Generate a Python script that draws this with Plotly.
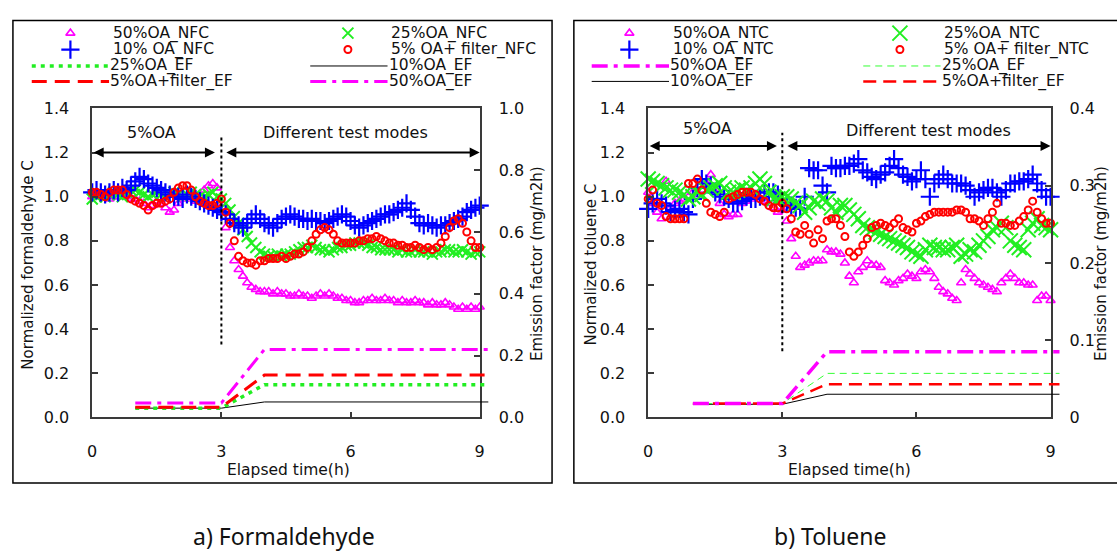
import plotly.graph_objects as go

W, H = 1117, 551
def px(x):
    return x / W
def py(y):
    return 1 - y / H

FONT = "DejaVu Sans"

# ---------------- data ----------------
t = [round(i * 0.1, 1) for i in range(91)]

# a) Formaldehyde - normalized concentration
form_50 = [1.00, 1.00, 1.01, 1.00, 0.99, 1.00, 1.00, 1.01, 1.00, 0.99,
           0.99, 0.98, 0.97, 0.95, 0.96, 0.98, 0.97, 0.95, 0.93, 0.94,
           0.97, 0.99, 1.00, 0.99, 0.98, 1.00, 1.03, 1.05, 1.06, 1.04,
           0.97, 0.86, 0.77, 0.71, 0.67, 0.64, 0.61, 0.59, 0.58, 0.57,
           0.57, 0.57, 0.56, 0.57, 0.56, 0.56, 0.55, 0.55, 0.56, 0.55,
           0.55, 0.54, 0.55, 0.56, 0.55, 0.56, 0.55, 0.54, 0.54, 0.53,
           0.53, 0.52, 0.52, 0.53, 0.53, 0.54, 0.53, 0.53, 0.54, 0.53,
           0.53, 0.52, 0.53, 0.52, 0.52, 0.53, 0.52, 0.52, 0.51, 0.52,
           0.51, 0.51, 0.52, 0.51, 0.50, 0.49, 0.50, 0.49, 0.50, 0.49,
           0.50]
form_10 = [1.02, 1.03, 1.02, 1.01, 1.02, 1.03, 1.02, 1.04, 1.03, 1.05,
           1.07, 1.09, 1.08, 1.06, 1.05, 1.04, 1.03, 1.02, 1.01, 1.00,
           1.00, 0.99, 1.01, 1.00, 0.99, 0.98, 0.97, 0.96, 0.95, 0.94,
           0.93, 0.92, 0.90, 0.88, 0.87, 0.86, 0.88, 0.90, 0.92, 0.90,
           0.88, 0.87, 0.86, 0.88, 0.90, 0.91, 0.92, 0.91, 0.90, 0.90,
           0.89, 0.90, 0.89, 0.89, 0.88, 0.89, 0.90, 0.91, 0.92, 0.91,
           0.89, 0.87, 0.86, 0.87, 0.88, 0.89, 0.90, 0.91, 0.92, 0.92,
           0.93, 0.94, 0.95, 0.97, 0.94, 0.91, 0.88, 0.87, 0.88, 0.87,
           0.86, 0.87, 0.87, 0.88, 0.89, 0.90, 0.91, 0.93, 0.94, 0.95,
           0.96]
form_25 = [0.99, 1.00, 1.01, 1.00, 1.01, 1.02, 1.01, 1.00, 1.02, 1.03,
           1.03, 1.02, 1.01, 1.00, 1.01, 1.02, 1.01, 1.00, 1.01, 1.02,
           1.01, 1.00, 1.01, 1.02, 1.01, 1.00, 1.00, 1.01, 1.02, 1.00,
           0.99, 0.97, 0.94, 0.91, 0.88, 0.85, 0.82, 0.79, 0.77, 0.75,
           0.74, 0.73, 0.73, 0.74, 0.73, 0.74, 0.74, 0.75, 0.76, 0.77,
           0.77, 0.78, 0.77, 0.76, 0.76, 0.75, 0.76, 0.77, 0.77, 0.78,
           0.78, 0.79, 0.79, 0.79, 0.78, 0.77, 0.77, 0.76, 0.76, 0.76,
           0.76, 0.75, 0.76, 0.75, 0.75, 0.76, 0.75, 0.75, 0.75, 0.74,
           0.75, 0.75, 0.76, 0.76, 0.75, 0.75, 0.76, 0.75, 0.74, 0.75,
           0.75]
form_5f = [1.02, 1.02, 1.01, 1.00, 1.02, 1.03, 1.03, 1.03, 1.01, 0.99,
           0.98, 0.97, 0.96, 0.94, 0.96, 0.97, 0.97, 0.98, 0.99, 1.02,
           1.04, 1.05, 1.05, 1.03, 1.00, 0.98, 0.97, 0.96, 0.96, 0.97,
           0.99, 0.93, 0.88, 0.80, 0.73, 0.71, 0.70, 0.70, 0.69, 0.71,
           0.71, 0.72, 0.72, 0.72, 0.73, 0.72, 0.73, 0.74, 0.74, 0.75,
           0.77, 0.80, 0.83, 0.85, 0.86, 0.85, 0.83, 0.80, 0.79, 0.79,
           0.79, 0.79, 0.80, 0.80, 0.81, 0.81, 0.82, 0.81, 0.80, 0.79,
           0.79, 0.78, 0.78, 0.77, 0.77, 0.78, 0.77, 0.76, 0.77, 0.76,
           0.77, 0.79, 0.82, 0.86, 0.89, 0.90, 0.88, 0.84, 0.80, 0.77,
           0.77]

# a) Formaldehyde - emission factor (mg/m2h)
ef_t = [1.0, 3.0, 4.0, 9.2]
form_ef25 = [0.030, 0.030, 0.106, 0.106]
form_ef5f = [0.033, 0.033, 0.137, 0.137]
form_ef10 = [0.030, 0.030, 0.050, 0.050]
form_ef50 = [0.047, 0.047, 0.220, 0.220]

# b) Toluene - normalized concentration
tol_50 = [1.02, 0.97, 0.93, 0.90, 1.07, 0.95, 0.97, 0.98, 0.99, 1.00,
          1.02, 1.01, 1.03, 1.06, 1.10, 1.02, 0.97, 0.92, 0.91, 0.92,
          0.92, 0.97, 0.98, 0.99, 1.00, 0.99, 0.98, 0.97, 0.95, 0.93,
          0.94, 0.89, 0.81, 0.73, 0.68, 0.69, 0.70, 0.71, 0.71, 0.71,
          0.76, 0.75, 0.75, 0.74, 0.70, 0.64, 0.61, 0.66, 0.68, 0.71,
          0.69, 0.69, 0.68, 0.62, 0.61, 0.60, 0.62, 0.63, 0.65, 0.64,
          0.63, 0.66, 0.67, 0.66, 0.63, 0.59, 0.57, 0.56, 0.54, 0.53,
          0.61, 0.67, 0.65, 0.63, 0.61, 0.60, 0.59, 0.58, 0.57, 0.61,
          0.63, 0.65, 0.63, 0.61, 0.61, 0.60, 0.60, 0.53, 0.55, 0.55,
          0.53]
tol_10 = [0.945, 0.97, 0.99, 0.97, 0.96, 0.93, 0.94, 0.945, 0.93, 0.92,
          0.99, 1.04, 1.08, 1.06, 1.05, 1.02, 1.01, 1.00, 0.99, 0.97,
          0.97, 0.98, 1.00, 0.99, 0.99, 1.00, 1.02, 1.02, 1.02, 1.01,
          0.97, 0.97, 0.96, 0.95, 0.945, 1.00, 1.13, 1.12, 1.12, 1.05,
          1.02, 1.14, 1.13, 1.13, 1.14, 1.14, 1.15, 1.17, 1.12, 1.11,
          1.09, 1.08, 1.10, 1.11, 1.14, 1.17, 1.13, 1.10, 1.09, 1.07,
          1.08, 1.12, 1.08, 1.00, 1.06, 1.08, 1.10, 1.08, 1.06, 1.06,
          1.06, 1.05, 1.03, 1.00, 1.02, 1.03, 1.04, 1.04, 1.02, 1.00,
          1.03, 1.06, 1.06, 1.07, 1.07, 1.08, 1.10, 1.06, 1.03, 1.00,
          1.00]
tol_25 = [1.08, 1.07, 1.06, 1.05, 1.04, 1.03, 1.03, 1.02, 1.01, 0.99,
          1.00, 1.02, 1.01, 1.03, 1.04, 1.05, 1.06, 1.04, 1.02, 1.02,
          1.03, 1.04, 1.03, 1.04, 1.06, 1.08, 1.06, 1.02, 0.99, 0.99,
          1.00, 1.00, 0.99, 0.97, 0.96, 0.93, 0.95, 0.98, 0.97, 0.99,
          0.98, 0.95, 0.93, 0.96, 0.96, 0.94, 0.92, 0.90, 0.87, 0.86,
          0.85, 0.84, 0.83, 0.82, 0.81, 0.80, 0.79, 0.78, 0.77, 0.75,
          0.74, 0.73, 0.76, 0.78, 0.77, 0.77, 0.76, 0.76, 0.77, 0.78,
          0.73, 0.74, 0.76, 0.75, 0.78, 0.80, 0.82, 0.85, 0.86, 0.88,
          0.86, 0.80, 0.78, 0.77, 0.76, 0.85, 0.88, 0.90, 0.87, 0.86,
          0.85]
tol_5f = [0.99, 1.03, 0.97, 0.96, 0.91, 0.90, 0.90, 0.90, 0.90, 1.06,
          1.06, 1.08, 1.03, 0.97, 0.93, 0.92, 0.91, 0.93, 0.99, 1.00,
          1.01, 1.02, 1.02, 1.02, 1.01, 0.99, 0.98, 0.96, 0.95, 0.95,
          0.97, 0.945, 0.90, 0.84, 0.83, 0.87, 0.83, 0.79, 0.85, 0.81,
          0.89, 0.90, 0.90, 0.87, 0.82, 0.75, 0.73, 0.75, 0.78, 0.81,
          0.86, 0.87, 0.88, 0.87, 0.86, 0.88, 0.90, 0.86, 0.85, 0.84,
          0.88, 0.89, 0.91, 0.92, 0.93, 0.93, 0.93, 0.93, 0.93, 0.94,
          0.94, 0.93, 0.90, 0.90, 0.89, 0.87, 0.90, 0.93, 0.97, 0.88,
          0.88, 0.87, 0.87, 0.89, 0.91, 0.94, 0.98, 0.93, 0.90, 0.88,
          0.88]

# b) Toluene - emission factor (mg/m2h)
tol_ef50 = [0.018, 0.018, 0.085, 0.085]
tol_ef25 = [0.018, 0.018, 0.057, 0.057]
tol_ef10 = [0.017, 0.017, 0.030, 0.030]
tol_ef5f = [0.018, 0.018, 0.043, 0.043]

left_y_ticks = [0.0, 0.2, 0.4, 0.6, 0.8, 1.0, 1.2, 1.4]
x_ticks = [0, 3, 6, 9]
form_ef_ticks = [0.0, 0.2, 0.4, 0.6, 0.8, 1.0]
tol_ef_ticks = [0, 0.1, 0.2, 0.3, 0.4]
tol_ef_ticktext = ["0", "0.1", "0.2", "0.3", "0.4"]

# ---------------- styles ----------------
MAG, BLU, GRN, RED = "#ff00ff", "#0000ff", "#22ee22", "#ff0000"
mk_tri = dict(symbol="triangle-up-open", size=8, color=MAG, line=dict(width=1.6, color=MAG))
mk_plus = dict(symbol="cross-thin-open", size=13, color=BLU, line=dict(width=2.2, color=BLU))
mk_x_l = dict(symbol="x-thin-open", size=11, color=GRN, line=dict(width=2, color=GRN))
mk_x_r = dict(symbol="x-thin-open", size=15, color=GRN, line=dict(width=2, color=GRN))
mk_circ = dict(symbol="circle-open", size=7, color=RED, line=dict(width=2, color=RED))

ln_l_25 = dict(color=GRN, width=3.5, dash="4px,5px")
ln_l_5f = dict(color=RED, width=3, dash="15px,8px")
ln_l_10 = dict(color="#000000", width=1)
ln_l_50 = dict(color=MAG, width=3, dash="16px,6px,4px,6px")
ln_r_50 = dict(color=MAG, width=3.5, dash="16px,6px,4px,6px")
ln_r_25 = dict(color="#33ff33", width=1, dash="7px,5px")
ln_r_10 = dict(color="#000000", width=1)
ln_r_5f = dict(color=RED, width=2.5, dash="13px,7px")

fig = go.Figure()

def mtrace(y, mk, xa, ya):
    fig.add_trace(go.Scatter(x=t, y=y, mode="markers", marker=mk, xaxis=xa, yaxis=ya,
                             showlegend=False, cliponaxis=False, hoverinfo="skip"))

def ltrace(x, y, ln, xa, ya):
    fig.add_trace(go.Scatter(x=x, y=y, mode="lines", line=ln, xaxis=xa, yaxis=ya,
                             showlegend=False, hoverinfo="skip"))

# left panel
mtrace(form_50, mk_tri, "x", "y")
mtrace(form_25, mk_x_l, "x", "y")
mtrace(form_10, mk_plus, "x", "y")
mtrace(form_5f, mk_circ, "x", "y")
fig.add_trace(go.Scatter(x=[], y=[], xaxis="x", yaxis="y2", showlegend=False))
ltrace(ef_t, form_ef10, ln_l_10, "x3", "y3")
ltrace(ef_t, form_ef25, ln_l_25, "x3", "y3")
ltrace(ef_t, form_ef5f, ln_l_5f, "x3", "y3")
ltrace(ef_t, form_ef50, ln_l_50, "x3", "y3")

# right panel
mtrace(tol_50, mk_tri, "x4", "y4")
mtrace(tol_10, mk_plus, "x4", "y4")
mtrace(tol_25, mk_x_r, "x4", "y4")
mtrace(tol_5f, mk_circ, "x4", "y4")
fig.add_trace(go.Scatter(x=[], y=[], xaxis="x4", yaxis="y5", showlegend=False))
ltrace(ef_t, tol_ef10, ln_r_10, "x6", "y6")
ltrace(ef_t, tol_ef25, ln_r_25, "x6", "y6")
ltrace(ef_t, tol_ef5f, ln_r_5f, "x6", "y6")
ltrace(ef_t, tol_ef50, ln_r_50, "x6", "y6")

# legends (pixel overlay axes x7/y7)
def leg_marker(x, y, mk):
    fig.add_trace(go.Scatter(x=[x], y=[y], mode="markers", marker=mk, xaxis="x7", yaxis="y7",
                             showlegend=False, hoverinfo="skip", cliponaxis=False))

def leg_line(x0, x1, y, ln):
    fig.add_trace(go.Scatter(x=[x0, x1], y=[y, y], mode="lines", line=ln, xaxis="x7", yaxis="y7",
                             showlegend=False, hoverinfo="skip"))

annotations = []
def text(x, y, s, size=16, xanchor="left", angle=0, family=FONT, xref="paper", yref="paper"):
    if xref == "paper":
        xx, yy = px(x), py(y)
    else:
        xx, yy = x, y
    annotations.append(dict(x=xx, y=yy, xref=xref, yref=yref, text=s, showarrow=False,
                            xanchor=xanchor, yanchor="middle", textangle=angle,
                            borderpad=0, borderwidth=0,
                            font=dict(family=family, size=size, color="#111111")))

R1, R2, R3, R4 = 25, 42, 59, 75
LF = 15.5
# left legend
leg_marker(66, R1, mk_tri); text(109, R1, "50%OA_NFC", LF)
leg_marker(66, R2, mk_plus); text(109, R2, "10% OA_NFC", LF)
leg_line(27, 105, R3, ln_l_25); text(106, R3, "25%OA_EF", LF)
leg_line(27, 105, R4, ln_l_5f); text(106, R4, "5%OA+filter_EF", LF)
leg_marker(346, R1, mk_x_l); text(389, R1, "25%OA_NFC", LF)
leg_marker(346, R2, mk_circ); text(389, R2, "5% OA+ filter_NFC", LF)
leg_line(308, 386, R3, ln_l_10); text(387, R3, "10%OA_EF", LF)
leg_line(308, 386, R4, ln_l_50); text(387, R4, "50%OA_EF", LF)
# right legend
leg_marker(630, R1, mk_tri); text(674, R1, "50%OA_NTC", LF)
leg_marker(630, R2, mk_plus); text(674, R2, "10% OA_NTC", LF)
leg_line(592, 670, R3, ln_r_50); text(671, R3, "50%OA_EF", LF)
leg_line(592, 670, R4, ln_r_10); text(671, R4, "10%OA_EF", LF)
leg_marker(903, R1, mk_x_r); text(947, R1, "25%OA_NTC", LF)
leg_marker(903, R2, mk_circ); text(947, R2, "5% OA+ filter_NTC", LF)
leg_line(866, 944, R3, ln_r_25); text(945, R3, "25%OA_EF", LF)
leg_line(866, 944, R4, ln_r_5f); text(945, R4, "5%OA+filter_EF", LF)

# axis titles and captions
text(23, 265, "Normalized formaldehyde C", size=15, xanchor="center", angle=-90)
text(537, 264, "Emission factor (mg/m2h)", size=15, xanchor="center", angle=-90)
text(286, 477, "Elapsed time(h)", size=15.5, xanchor="center")
text(591, 265, "Normalized toluene C", size=15, xanchor="center", angle=-90)
text(1106, 264, "Emission factor (mg/m2h)", size=15, xanchor="center", angle=-90)
text(852, 477, "Elapsed time(h)", size=15.5, xanchor="center")
text(282, 546, "a) Formaldehyde", size=23, xanchor="center", family="Noto Sans")
text(832, 546, "b) Toluene", size=23, xanchor="center", family="Noto Sans")

# in-plot labels and arrows
def arrow(x0, x1, y, xr, yr):
    annotations.append(dict(x=x1, y=y, ax=x0, ay=y, xref=xr, yref=yr, axref=xr, ayref=yr,
                            text="", showarrow=True, arrowhead=2, arrowside="end+start",
                            arrowsize=1, arrowwidth=2, arrowcolor="#000000"))

text(1.38, 1.29, "5%OA", xanchor="center", xref="x", yref="y")
text(5.88, 1.29, "Different test modes", xanchor="center", xref="x", yref="y")
arrow(0.0, 2.85, 1.20, "x", "y")
arrow(3.08, 9.0, 1.20, "x", "y")
text(1.32, 1.31, "5%OA", xanchor="center", xref="x4", yref="y4")
text(6.27, 1.30, "Different test modes", xanchor="center", xref="x4", yref="y4")
arrow(0.0, 2.88, 1.23, "x4", "y4")
arrow(3.08, 9.0, 1.23, "x4", "y4")

shapes = [
    dict(type="rect", xref="paper", yref="paper", x0=px(8), x1=px(552), y0=py(491), y1=py(12),
         line=dict(color="#000000", width=1.5)),
    dict(type="rect", xref="paper", yref="paper", x0=px(574), x1=px(1130), y0=py(491), y1=py(12),
         line=dict(color="#000000", width=1.5)),
    dict(type="line", xref="x", yref="y", x0=3, x1=3, y0=0.33, y1=1.27,
         line=dict(color="#000000", width=2, dash="dot")),
    dict(type="line", xref="x4", yref="y4", x0=3, x1=3, y0=0.30, y1=1.29,
         line=dict(color="#000000", width=2, dash="dot")),
]

AX = dict(showgrid=False, zeroline=False, showline=True, linecolor="#3a3a3a", linewidth=1.5,
          ticks="inside", ticklen=6, tickcolor="#3a3a3a", tickwidth=1.5,
          tickfont=dict(family=FONT, size=16, color="#111111"))
ydom = [py(423), py(103)]

fig.update_layout(
    width=W, height=H, margin=dict(l=0, r=0, t=0, b=0, pad=0),
    paper_bgcolor="white", plot_bgcolor="rgba(0,0,0,0)", showlegend=False,
    xaxis=dict(AX, domain=[px(88), px(479)], range=[0, 9], tickvals=x_ticks, anchor="y",
               mirror=True, ticklabelstandoff=19),
    yaxis=dict(AX, domain=ydom, range=[0, 1.4], tickvals=left_y_ticks, tickformat=".1f",
               anchor="x", ticklabelstandoff=18),
    yaxis2=dict(AX, domain=ydom, range=[0, 1.0], tickvals=form_ef_ticks, tickformat=".1f",
                anchor="x", overlaying="y", side="right", ticklabelstandoff=14),
    xaxis3=dict(domain=[px(88), px(490)], range=[0, 9 * 402 / 391], visible=False, anchor="y3"),
    yaxis3=dict(domain=ydom, range=[0, 1.0], visible=False, anchor="x3"),
    xaxis4=dict(AX, domain=[px(649), px(1055)], range=[0, 9], tickvals=x_ticks, anchor="y4",
                mirror=True, ticklabelstandoff=19),
    yaxis4=dict(AX, domain=ydom, range=[0, 1.4], tickvals=left_y_ticks, tickformat=".1f",
                anchor="x4", ticklabelstandoff=18),
    yaxis5=dict(AX, domain=ydom, range=[0, 0.4], tickvals=tol_ef_ticks, ticktext=tol_ef_ticktext,
                anchor="x4", overlaying="y4", side="right", ticklabelstandoff=14),
    xaxis6=dict(domain=[px(649), px(1065)], range=[0, 9 * 416 / 406], visible=False, anchor="y6"),
    yaxis6=dict(domain=ydom, range=[0, 0.4], visible=False, anchor="x6"),
    xaxis7=dict(domain=[0, 1], range=[0, W], visible=False, anchor="y7"),
    yaxis7=dict(domain=[0, 1], range=[H, 0], visible=False, anchor="x7"),
    annotations=annotations, shapes=shapes,
)

fig.write_html("out.html")
